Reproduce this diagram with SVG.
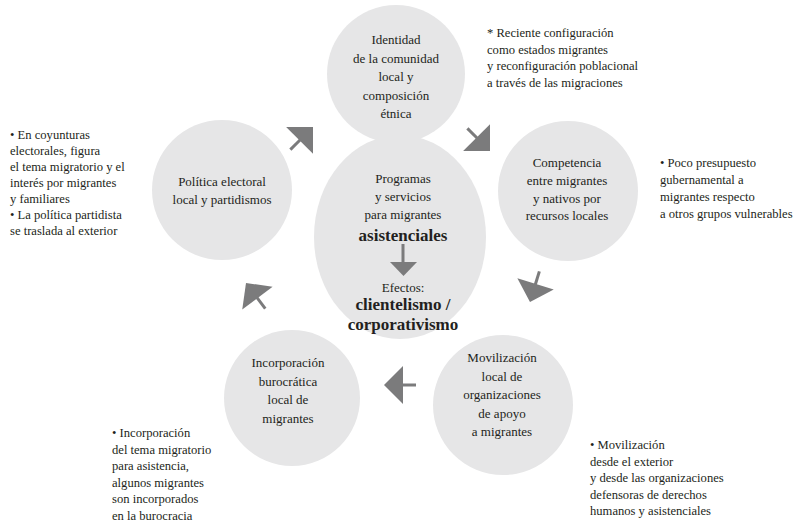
<svg xmlns="http://www.w3.org/2000/svg" xmlns:xlink="http://www.w3.org/1999/xlink" width="794" height="531" viewBox="0 0 794 531">
<style>
.c{fill:#e6e6e7}
.t{font-family:'Liberation Serif','Times New Roman',serif;font-size:13px;fill:#231f20}
.n{font-size:12.6px}
.m{text-anchor:middle}
.b{font-weight:bold;font-size:17px}
.a{fill:#7b7b7c}
.s{stroke:#7b7b7c;stroke-width:3;fill:none}
</style>
<defs>
<g id="arr"><line class="s" x1="-32" y1="0" x2="-18" y2="0"/><polygon class="a" points="0,0 -19,-19 -19,19"/></g>
</defs>
<rect width="794" height="531" fill="#fff"/>
<g id="n-identidad">
<circle class="c" cx="396" cy="74" r="69"/>
<text class="t m" x="396" y="44">Identidad</text>
<text class="t m" x="396" y="62.5">de la comunidad</text>
<text class="t m" x="396" y="81">local y</text>
<text class="t m" x="396" y="99.5">composición</text>
<text class="t m" x="396" y="118">étnica</text>
</g>
<g id="n-politica">
<circle class="c" cx="222" cy="190" r="70"/>
<text class="t m" x="222" y="186">Política electoral</text>
<text class="t m" x="222" y="204">local y partidismos</text>
</g>
<g id="n-competencia">
<circle class="c" cx="568" cy="191" r="70"/>
<text class="t m" x="567" y="167">Competencia</text>
<text class="t m" x="567" y="185">entre migrantes</text>
<text class="t m" x="567" y="203">y nativos por</text>
<text class="t m" x="567" y="220">recursos locales</text>
</g>
<g id="n-movilizacion">
<circle class="c" cx="503" cy="405" r="70"/>
<text class="t m" x="502" y="362">Movilización</text>
<text class="t m" x="502" y="380.5">local de</text>
<text class="t m" x="502" y="399">organizaciones</text>
<text class="t m" x="502" y="417.5">de apoyo</text>
<text class="t m" x="502" y="436">a migrantes</text>
</g>
<g id="n-incorporacion">
<circle class="c" cx="292" cy="398" r="68"/>
<text class="t m" x="288" y="367">Incorporación</text>
<text class="t m" x="288" y="385.5">burocrática</text>
<text class="t m" x="288" y="404">local de</text>
<text class="t m" x="288" y="422.5">migrantes</text>
</g>
<g id="n-centro">
<ellipse class="c" cx="400" cy="237" rx="86" ry="102"/>
<text class="t m" x="403" y="183">Programas</text>
<text class="t m" x="403" y="201">y servicios</text>
<text class="t m" x="403" y="219">para migrantes</text>
<text class="t m b" x="403" y="241">asistenciales</text>
<line class="s" x1="403" y1="244" x2="403" y2="263"/>
<polygon class="a" points="390,262 417,262 403.5,276"/>
<text class="t m" x="403" y="292">Efectos:</text>
<text class="t m b" x="403" y="310">clientelismo /</text>
<text class="t m b" x="403" y="330">corporativismo</text>
</g>
<g id="connectors">
<use xlink:href="#arr" transform="translate(313,127) rotate(-45)"/>
<use xlink:href="#arr" transform="translate(490,151) rotate(45)"/>
<use xlink:href="#arr" transform="translate(530,302) rotate(107)"/>
<use xlink:href="#arr" transform="translate(384,385) rotate(180)"/>
<use xlink:href="#arr" transform="translate(246,283) rotate(-127)"/>
</g>
<g id="notes">
<text class="t n" x="487" y="37">* Reciente configuración</text>
<text class="t n" x="487" y="53.5">como estados migrantes</text>
<text class="t n" x="487" y="70">y reconfiguración poblacional</text>
<text class="t n" x="487" y="86.5">a través de las migraciones</text>
<text class="t n" x="10" y="139">• En coyunturas</text>
<text class="t n" x="10" y="155">electorales, figura</text>
<text class="t n" x="10" y="171">el tema migratorio y el</text>
<text class="t n" x="10" y="187">interés por migrantes</text>
<text class="t n" x="10" y="203">y familiares</text>
<text class="t n" x="10" y="219">• La política partidista</text>
<text class="t n" x="10" y="235">se traslada al exterior</text>
<text class="t n" x="660" y="167">• Poco presupuesto</text>
<text class="t n" x="660" y="184">gubernamental a</text>
<text class="t n" x="660" y="201">migrantes respecto</text>
<text class="t n" x="660" y="218">a otros grupos vulnerables</text>
<text class="t n" x="112" y="437">• Incorporación</text>
<text class="t n" x="112" y="453.5">del tema migratorio</text>
<text class="t n" x="112" y="470">para asistencia,</text>
<text class="t n" x="112" y="486.5">algunos migrantes</text>
<text class="t n" x="112" y="503">son incorporados</text>
<text class="t n" x="112" y="519.5">en la burocracia</text>
<text class="t n" x="590" y="449">• Movilización</text>
<text class="t n" x="590" y="465.5">desde el exterior</text>
<text class="t n" x="590" y="482">y desde las organizaciones</text>
<text class="t n" x="590" y="498.5">defensoras de derechos</text>
<text class="t n" x="590" y="515">humanos y asistenciales</text>
</g>
</svg>
